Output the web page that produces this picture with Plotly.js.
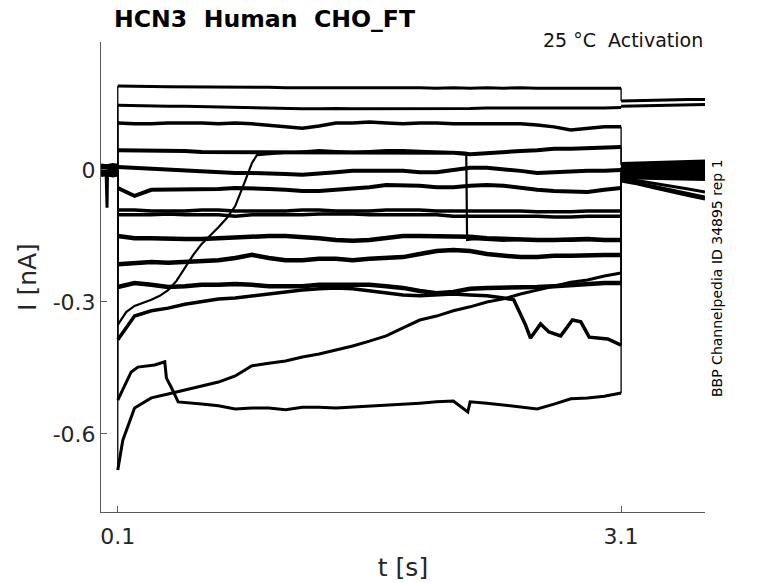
<!DOCTYPE html>
<html>
<head>
<meta charset="utf-8">
<script src="https://cdn.plot.ly/plotly-3.0.1.min.js"></script>
<style>
html,body{margin:0;padding:0;background:#fff;}
#chart{width:778px;height:583px;}
</style>
</head>
<body>
<div id="chart"></div>
<script>
// ---------- texts ----------
const TITLE = 'HCN3\u00a0 Human\u00a0 CHO_FT';
const SUBTITLE = '25 °C\u00a0 Activation';
const SIDE_NOTE = 'BBP Channelpedia ID 34895 rep 1';
const X_LABEL = 't [s]';
const Y_LABEL = 'I [nA]';
const X_TICKS = [0.1, 3.1];
const X_TICK_TEXT = ['0.1', '3.1'];
const Y_TICKS = [0, -0.3, -0.6];
const Y_TICK_TEXT = ['0', '-0.3', '-0.6'];

// ---------- time bases (s) ----------
const tHold = [0, 0.035, 0.07, 0.1];
const tHoldSpike = [0, 0.03, 0.036, 0.039, 0.07, 0.1];
const tStep = [0.1,0.2,0.3,0.4,0.5,0.6,0.7,0.8,0.9,1.0,1.1,1.2,1.3,1.4,1.5,1.6,1.7,1.8,1.9,2.0,2.1,2.2,2.3,2.4,2.5,2.6,2.7,2.8,2.9,3.0,3.1];
const tTail = [3.1, 3.2, 3.3, 3.4, 3.5, 3.6];
const tK = [0.1,0.2,0.3,0.4,0.5,0.6,0.7,0.8,0.9,1.0,1.1,1.2,1.3,1.4,1.5,1.6,1.7,1.8,1.9,2.0,2.1,2.2,2.3,2.4,2.46,2.53,2.56,2.62,2.67,2.74,2.81,2.86,2.91,3.02,3.1];
const tM = [0.1,0.13,0.2,0.3,0.4,0.5,0.6,0.7,0.8,0.9,1.0,1.1,1.2,1.3,1.4,1.5,1.6,1.7,1.8,1.9,2.0,2.1,2.2,2.3,2.4,2.5,2.6,2.7,2.8,2.9,3.0,3.1];
const tN = [0.1,0.14,0.18,0.22,0.32,0.38,0.39,0.42,0.46,0.6,0.7,0.8,0.9,1.0,1.1,1.2,1.3,1.4,1.5,1.6,1.7,1.8,1.9,2.0,2.1,2.186,2.2,2.3,2.4,2.5,2.6,2.7,2.8,2.9,3.0,3.1];
const tP = [0.1,0.15,0.2,0.3,0.35,0.4,0.45,0.5,0.55,0.6,0.65,0.7,0.75,0.8,0.85,0.9,0.93,1.0,1.1,1.2,1.3,1.4,1.5,1.6,1.7,1.8,1.9,2.0,2.1,2.177,2.182,2.22,2.3,2.4,2.5,2.6,2.7,2.8,2.9,3.0,3.1];

// ---------- holding current before the step (nA) ----------
const holdA = [0.004, 0.003, -0.086, -0.004, 0.005, 0.004];
const holdB = [0.008, 0.006, 0.009, 0.007];
const holdC = [0.011, 0.009, 0.012, 0.010];
const holdD = [0.002, 0.004, 0.001, 0.003];
const holdE = [-0.002, 0.000, -0.003, -0.001];
const holdF = [-0.005, -0.003, -0.006, -0.004];
const holdG1 = [0.006, 0.008, 0.005, 0.007];
const holdG2 = [-0.008, -0.006, -0.009, -0.007];
const holdH = [0.000, 0.002, -0.001, 0.001];
const holdI = [-0.011, -0.009, -0.012, -0.010];
const holdJ = [0.004, 0.002, 0.005, 0.003];
const holdK = [-0.003, -0.001, -0.004, -0.002];
const holdM = [0.001, -0.001, 0.002, 0.000];
const holdN = [-0.006, -0.004, -0.007, -0.005];
const holdP = [0.005, 0.003, 0.006, 0.004];

// ---------- current during the step (nA) ----------
const iA = [0.191,0.191,0.190,0.189,0.189,0.188,0.189,0.188,0.188,0.188,0.187,0.187,0.188,0.187,0.187,0.187,0.188,0.187,0.187,0.186,0.187,0.186,0.187,0.186,0.187,0.186,0.186,0.186,0.187,0.186,0.186];
const iB = [0.147,0.146,0.146,0.145,0.145,0.144,0.144,0.143,0.142,0.141,0.140,0.139,0.139,0.140,0.139,0.139,0.139,0.140,0.140,0.140,0.140,0.140,0.141,0.141,0.141,0.141,0.140,0.140,0.141,0.141,0.142];
const iC = [0.107,0.105,0.105,0.107,0.107,0.107,0.105,0.107,0.105,0.102,0.098,0.095,0.100,0.107,0.107,0.109,0.107,0.105,0.107,0.107,0.105,0.105,0.105,0.105,0.105,0.102,0.098,0.091,0.095,0.098,0.098];
const iD = [0.045,0.045,0.043,0.043,0.043,0.041,0.041,0.041,0.041,0.041,0.039,0.039,0.041,0.041,0.041,0.041,0.041,0.041,0.039,0.039,0.039,0.036,0.039,0.041,0.043,0.045,0.048,0.048,0.050,0.050,0.052];
const iE = [0.007,0.005,0.002,0.000,-0.002,-0.005,-0.005,-0.007,-0.007,-0.007,-0.009,-0.011,-0.009,-0.005,-0.002,-0.002,0.000,-0.002,-0.005,-0.005,0.000,0.005,0.005,0.002,-0.002,-0.007,-0.005,-0.002,-0.002,-0.002,0.000];
const iF = [-0.041,-0.059,-0.045,-0.045,-0.043,-0.043,-0.043,-0.041,-0.041,-0.043,-0.045,-0.048,-0.048,-0.045,-0.043,-0.039,-0.034,-0.034,-0.036,-0.039,-0.039,-0.036,-0.034,-0.036,-0.041,-0.045,-0.048,-0.050,-0.050,-0.045,-0.041];
const iG1 = [-0.091,-0.091,-0.093,-0.093,-0.093,-0.091,-0.091,-0.093,-0.093,-0.093,-0.093,-0.091,-0.091,-0.093,-0.093,-0.093,-0.091,-0.091,-0.091,-0.093,-0.093,-0.093,-0.093,-0.093,-0.093,-0.095,-0.095,-0.095,-0.093,-0.093,-0.093];
const iG2 = [-0.102,-0.102,-0.102,-0.100,-0.102,-0.102,-0.102,-0.105,-0.102,-0.102,-0.102,-0.102,-0.100,-0.100,-0.100,-0.102,-0.102,-0.102,-0.102,-0.102,-0.105,-0.105,-0.105,-0.105,-0.105,-0.105,-0.107,-0.107,-0.105,-0.105,-0.105];
const iH = [-0.150,-0.155,-0.155,-0.157,-0.157,-0.157,-0.155,-0.152,-0.150,-0.150,-0.150,-0.152,-0.155,-0.159,-0.161,-0.159,-0.155,-0.150,-0.150,-0.150,-0.152,-0.152,-0.155,-0.157,-0.159,-0.159,-0.159,-0.157,-0.157,-0.159,-0.159];
const iI = [-0.214,-0.211,-0.209,-0.211,-0.209,-0.207,-0.205,-0.200,-0.193,-0.200,-0.205,-0.205,-0.202,-0.202,-0.205,-0.202,-0.200,-0.198,-0.191,-0.184,-0.182,-0.184,-0.191,-0.195,-0.198,-0.198,-0.195,-0.195,-0.193,-0.193,-0.193];
const iJ = [-0.266,-0.257,-0.261,-0.266,-0.264,-0.261,-0.261,-0.259,-0.261,-0.264,-0.264,-0.264,-0.261,-0.261,-0.261,-0.261,-0.264,-0.268,-0.275,-0.280,-0.277,-0.270,-0.268,-0.268,-0.266,-0.266,-0.264,-0.261,-0.259,-0.257,-0.257];
const iK = [-0.386,-0.332,-0.320,-0.314,-0.305,-0.298,-0.293,-0.291,-0.286,-0.282,-0.277,-0.273,-0.270,-0.268,-0.270,-0.275,-0.280,-0.284,-0.286,-0.284,-0.282,-0.284,-0.286,-0.291,-0.295,-0.352,-0.382,-0.350,-0.368,-0.377,-0.341,-0.345,-0.380,-0.384,-0.398];
const iM = [-0.682,-0.614,-0.541,-0.518,-0.509,-0.500,-0.491,-0.482,-0.468,-0.445,-0.439,-0.434,-0.425,-0.418,-0.409,-0.400,-0.389,-0.377,-0.359,-0.341,-0.332,-0.320,-0.311,-0.300,-0.293,-0.282,-0.273,-0.264,-0.255,-0.250,-0.241,-0.234];
const iN = [-0.523,-0.489,-0.459,-0.448,-0.443,-0.436,-0.473,-0.495,-0.527,-0.532,-0.536,-0.543,-0.541,-0.541,-0.545,-0.539,-0.539,-0.541,-0.539,-0.536,-0.534,-0.532,-0.530,-0.527,-0.525,-0.550,-0.527,-0.530,-0.534,-0.539,-0.543,-0.532,-0.520,-0.518,-0.514,-0.507];
const iP = [-0.352,-0.323,-0.309,-0.295,-0.286,-0.273,-0.252,-0.223,-0.193,-0.168,-0.150,-0.130,-0.109,-0.082,-0.034,0.016,0.034,0.036,0.039,0.043,0.045,0.043,0.041,0.043,0.045,0.045,0.043,0.041,0.039,0.039,-0.159,-0.157,-0.159,-0.161,-0.159,-0.157,-0.159,-0.161,-0.159,-0.161,-0.161];

// ---------- tail current after the step (nA) ----------
const tailA = [0.157,0.158,0.158,0.159,0.160,0.160];
const tailB = [0.145,0.146,0.147,0.147,0.148,0.149];
const tailC = [0.014,0.015,0.016,0.017,0.018,0.020];
const tailD = [0.010,0.011,0.012,0.012,0.013,0.014];
const tailE = [0.006,0.007,0.008,0.008,0.009,0.010];
const tailF = [0.002,0.003,0.003,0.004,0.004,0.005];
const tailG1 = [-0.002,-0.001,0.000,0.000,0.001,0.002];
const tailG2 = [-0.006,-0.005,-0.005,-0.004,-0.004,-0.003];
const tailH = [-0.010,-0.010,-0.009,-0.009,-0.008,-0.008];
const tailI = [-0.014,-0.014,-0.013,-0.013,-0.013,-0.012];
const tailJ = [-0.016,-0.017,-0.017,-0.018,-0.019,-0.020];
const tailK = [-0.022,-0.030,-0.038,-0.046,-0.054,-0.062];
const tailM = [-0.025,-0.032,-0.041,-0.050,-0.058,-0.066];
const tailN = [-0.018,-0.024,-0.030,-0.036,-0.043,-0.050];
const tailP = [-0.008,-0.008,-0.007,-0.007,-0.006,-0.006];

// ---------- sweeps: [hold times, hold, step times, step, tail, band width] ----------
const sweeps = [
  [tHoldSpike, holdA, tStep, iA, tailA, 3],
  [tHold, holdB, tStep, iB, tailB, 3],
  [tHold, holdC, tStep, iC, tailC, 3.5],
  [tHold, holdD, tStep, iD, tailD, 4],
  [tHold, holdE, tStep, iE, tailE, 4],
  [tHold, holdF, tStep, iF, tailF, 4],
  [tHold, holdG1, tStep, iG1, tailG1, 3.5],
  [tHold, holdG2, tStep, iG2, tailG2, 3.5],
  [tHold, holdH, tStep, iH, tailH, 4.5],
  [tHold, holdI, tStep, iI, tailI, 4.5],
  [tHold, holdJ, tStep, iJ, tailJ, 4.5],
  [tHold, holdK, tK, iK, tailK, 3.5],
  [tHold, holdM, tM, iM, tailM, 3],
  [tHold, holdN, tN, iN, tailN, 3],
  [tHold, holdP, tP, iP, tailP, 2.2]
];

const EDGE_WIDTH = 1.3;

function last(a) { return a[a.length - 1]; }

const data = [];
sweeps.forEach(function (s) {
  const hT = s[0], hV = s[1], sT = s[2], sV = s[3], tV = s[4], w = s[5];
  // holding, step and tail segments (noisy bands)
  [[hT, hV], [sT, sV], [tTail, tV]].forEach(function (seg) {
    data.push({
      type: 'scatter', mode: 'lines',
      x: seg[0], y: seg[1],
      line: {color: '#000', width: w},
      hoverinfo: 'skip', showlegend: false
    });
  });
  // thin jumps at step onset and offset
  data.push({
    type: 'scatter', mode: 'lines',
    x: [last(hT), sT[0], null, last(sT), tTail[0]],
    y: [last(hV), sV[0], null, last(sV), tV[0]],
    line: {color: '#000', width: EDGE_WIDTH},
    connectgaps: false,
    hoverinfo: 'skip', showlegend: false
  });
});

const AX_COLOR = '#5a5a5a';
const TXT_COLOR = '#262626';

const layout = {
  width: 778,
  height: 583,
  margin: {l: 101, r: 73, t: 42, b: 71, pad: 0},
  paper_bgcolor: '#ffffff',
  plot_bgcolor: '#ffffff',
  showlegend: false,
  font: {family: 'DejaVu Sans', color: TXT_COLOR},
  title: {
    text: TITLE,
    font: {family: 'DejaVu Sans', size: 23.6, weight: 'bold', color: '#000'},
    xref: 'container', yref: 'container',
    x: 114 / 778, xanchor: 'left',
    y: 1 - 19 / 583, yanchor: 'middle'
  },
  xaxis: {
    range: [0, 3.6],
    tickmode: 'array',
    tickvals: X_TICKS,
    ticktext: X_TICK_TEXT,
    ticks: 'inside',
    ticklen: 6,
    tickwidth: 1,
    tickcolor: AX_COLOR,
    ticklabelstandoff: 5,
    showline: true,
    linecolor: AX_COLOR,
    linewidth: 1,
    showgrid: false,
    zeroline: false,
    tickfont: {family: 'DejaVu Sans', size: 22, color: TXT_COLOR},
    title: {text: X_LABEL, font: {family: 'DejaVu Sans', size: 25, color: TXT_COLOR}, standoff: 10}
  },
  yaxis: {
    range: [-0.7773, 0.2909],
    tickmode: 'array',
    tickvals: Y_TICKS,
    ticktext: Y_TICK_TEXT,
    ticks: 'inside',
    ticklen: 6,
    tickwidth: 1,
    tickcolor: AX_COLOR,
    showline: true,
    linecolor: AX_COLOR,
    linewidth: 1,
    showgrid: false,
    zeroline: false,
    tickfont: {family: 'DejaVu Sans', size: 22, color: TXT_COLOR},
    title: {text: Y_LABEL, font: {family: 'DejaVu Sans', size: 25, color: TXT_COLOR}, standoff: 8}
  },
  annotations: [
    {
      text: SUBTITLE,
      xref: 'paper', yref: 'paper',
      x: (705 - 101) / 604, xanchor: 'right',
      y: (512 - 40) / 470, yanchor: 'middle',
      showarrow: false,
      font: {family: 'DejaVu Sans', size: 19, color: '#111'}
    },
    {
      text: SIDE_NOTE,
      xref: 'paper', yref: 'paper',
      x: (717 - 101) / 604, xanchor: 'center',
      y: (512 - 278) / 470, yanchor: 'middle',
      textangle: -90,
      showarrow: false,
      font: {family: 'DejaVu Sans', size: 14, color: '#000'}
    }
  ]
};

Plotly.newPlot('chart', data, layout, {staticPlot: true, displayModeBar: false});
</script>
</body>
</html>
